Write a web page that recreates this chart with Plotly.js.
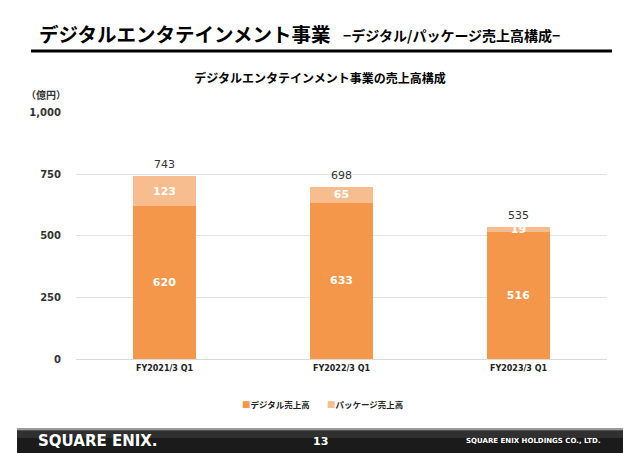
<!DOCTYPE html>
<html>
<head>
<meta charset="utf-8">
<script src="https://cdn.plot.ly/plotly-3.0.1.min.js"></script>
<style>
  html, body { margin: 0; padding: 0; background: #fff; }
  #chart { width: 640px; height: 453px; }
</style>
</head>
<body>
<div id="chart"></div>
<script>
// data (億円)
const categories = ["FY2021/3 Q1", "FY2022/3 Q1", "FY2023/3 Q1"];
const digitalSales = [620, 633, 516];
const packageSales = [123, 65, 19];
const totals = [743, 698, 535];
const yTicks = [0, 250, 500, 750, 1000];

const seriesNames = ["デジタル売上高", "パッケージ売上高"];
const seriesColors = ["#F4974B", "#F8BD8E"];

const JP = "Noto Sans CJK JP, sans-serif";
const NUM = "DejaVu Sans, Noto Sans CJK JP, sans-serif";

// plot area in pixels: x 76..607, y 112..359
const px = x => (x - 76) / 531;
const py = y => (359 - y) / 247;

function barTrace(i, values) {
    return {
        type: "bar",
        name: seriesNames[i],
        x: categories,
        y: values,
        marker: { color: seriesColors[i] },
        text: values.map(String),
        textposition: "inside",
        insidetextanchor: "middle",
        textfont: { family: NUM, size: 11, color: "#ffffff", weight: 700 },
        hoverinfo: "skip"
    };
}

// totals above each stack
const totalNotes = categories.map((c, i) => ({
    x: c, y: totals[i], xref: "x", yref: "y",
    text: String(totals[i]),
    showarrow: false, yanchor: "bottom", yshift: 3,
    font: { family: NUM, size: 11, color: "#333333" }
}));

// legend drawn as keyed text, the slide uses tiny squares hugging the label
const legendLeft = [240, 325];
const legendNotes = seriesNames.map((name, i) => ({
    x: px(legendLeft[i]), y: py(404), xanchor: "left", yanchor: "middle",
    text: '<span style="color:' + seriesColors[i] + '">■</span>' + name,
    font: { family: JP, size: 8.5, color: "#222222", weight: 700 }
}));

const pageNotes = [
    {   // slide heading
        x: px(37), y: py(33), xanchor: "left", yanchor: "middle",
        text: "デジタルエンタテインメント事業",
        font: { family: JP, size: 19.5, color: "#000000", weight: 700 }
    },
    {
        x: px(341), y: py(35), xanchor: "left", yanchor: "middle",
        text: "−デジタル/パッケージ売上高構成−",
        font: { family: JP, size: 14, color: "#000000", weight: 700 }
    },
    {
        x: px(68), y: py(95), xanchor: "right", yanchor: "middle",
        text: "（億円）",
        font: { family: JP, size: 10, color: "#333333", weight: 700 }
    },
    {   // footer
        x: px(36), y: py(441), xanchor: "left", yanchor: "middle",
        text: "SQUARE ENIX.",
        font: { family: NUM, size: 15, color: "#ffffff", weight: 700 }
    },
    {
        x: px(320), y: py(441), xanchor: "center", yanchor: "middle",
        text: "13",
        font: { family: NUM, size: 11, color: "#ffffff", weight: 700 }
    },
    {
        x: px(603), y: py(441), xanchor: "right", yanchor: "middle",
        text: "SQUARE ENIX HOLDINGS CO., LTD.",
        font: { family: NUM, size: 7, color: "#ffffff", weight: 700 }
    }
].concat(legendNotes).map(a => Object.assign({ xref: "paper", yref: "paper", showarrow: false }, a));

const shapes = [
    {   // heading rule
        type: "line", xref: "paper", yref: "paper",
        x0: px(31), x1: px(612), y0: py(51), y1: py(51),
        line: { color: "#000000", width: 3 }
    },
    {
        type: "rect", xref: "paper", yref: "paper",
        x0: px(17), x1: px(623), y0: py(428), y1: py(430.5),
        fillcolor: "#9a9a9a", line: { width: 0 }
    },
    {
        type: "rect", xref: "paper", yref: "paper",
        x0: px(17), x1: px(623), y0: py(430.5), y1: py(453),
        fillcolor: "#1b1b1b", line: { width: 0 }
    },
    {
        type: "rect", xref: "paper", yref: "paper",
        x0: px(17), x1: px(623), y0: py(430.5), y1: py(438),
        fillcolor: "#303030", line: { width: 0 }
    }
];

const layout = {
    width: 640,
    height: 453,
    margin: { l: 76, r: 33, t: 112, b: 94 },
    paper_bgcolor: "#ffffff",
    plot_bgcolor: "#ffffff",
    barmode: "stack",
    bargap: 0.644,
    showlegend: false,
    title: {
        text: "デジタルエンタテインメント事業の売上高構成",
        x: 0.5, xref: "container", xanchor: "center",
        y: 1 - 79 / 453, yref: "container", yanchor: "middle",
        font: { family: JP, size: 12, color: "#000000", weight: 700 }
    },
    xaxis: {
        type: "category",
        tickfont: { family: NUM, size: 8, color: "#222222", weight: 700 },
        showline: false,
        ticks: "",
        ticklabelstandoff: 3,
        fixedrange: true
    },
    yaxis: {
        range: [0, 1002],
        tickvals: yTicks,
        tickformat: ",d",
        tickfont: { family: NUM, size: 10, color: "#333333", weight: 700 },
        gridcolor: "#E4E4E4",
        gridwidth: 1,
        zeroline: true,
        zerolinecolor: "#DADADA",
        zerolinewidth: 1,
        ticklabelstandoff: 14,
        fixedrange: true
    },
    uniformtext: { mode: "show", minsize: 11 },
    annotations: totalNotes.concat(pageNotes),
    shapes: shapes
};

Plotly.newPlot("chart", [barTrace(0, digitalSales), barTrace(1, packageSales)], layout,
    { displayModeBar: false, staticPlot: true });
</script>
</body>
</html>
